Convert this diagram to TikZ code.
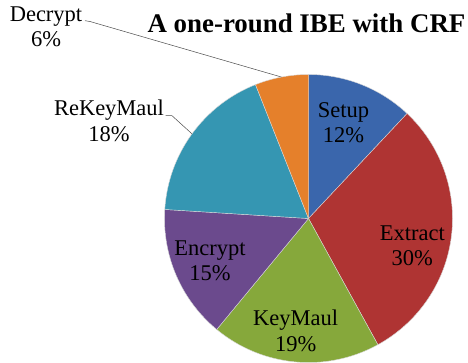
\documentclass[tikz,border=0pt]{standalone}
\usepackage{fontspec}
\setmainfont{Liberation Serif}
\usetikzlibrary{calc}
\begin{document}
\begin{tikzpicture}[x=1pt,y=1pt,
  lbl/.style={font=\fontsize{22.5}{25.4}\selectfont, align=center, inner sep=0pt, text=black, anchor=base},
  leader/.style={draw=black!70, line width=0.5pt},
  slice/.style={draw=white!85!black, line width=0.4pt}]
\useasboundingbox (0,0) rectangle (468,-362);
\fill[white] (0,0) rectangle (468,-362);

\definecolor{cSetup}{HTML}{3A66AC}
\definecolor{cExtract}{HTML}{AF3433}
\definecolor{cKeyMaul}{HTML}{86A83B}
\definecolor{cEncrypt}{HTML}{6B4A8D}
\definecolor{cReKey}{HTML}{3596B2}
\definecolor{cDecrypt}{HTML}{E5802B}

\coordinate (C) at (308.5,-218.5);
\def\R{144}

% slices, clockwise from 12 o'clock
\foreach \a/\b/\c in {90/46.8/cSetup, 46.8/-61.2/cExtract, -61.2/-129.6/cKeyMaul,
                      -129.6/-183.6/cEncrypt, -183.6/-248.4/cReKey, -248.4/-270/cDecrypt}{
  \filldraw[slice, fill=\c] (C) -- ++(\a:\R) arc[start angle=\a, end angle=\b, radius=\R] -- cycle;
}

% title
\node[font=\fontsize{26.9}{30}\selectfont\bfseries, anchor=base, inner sep=0pt] (title) at (306.5,-32.3) {A one-round IBE with CRF};

% slice labels (placed by the baseline of their last line)
\node[lbl] (setup) at (343.5,-142.7) {Setup\\12\%};
\node[lbl] (extract) at (412.3,-265.7) {Extract\\30\%};
\node[lbl] (keymaul) at (295.7,-351) {KeyMaul\\19\%};
\node[lbl] (encrypt) at (210,-280.7) {Encrypt\\15\%};
\node[lbl] (rekey) at (109,-141) {ReKeyMaul\\18\%};
\node[lbl] (decrypt) at (46,-46.7) {Decrypt\\6\%};

% leader lines from the outer labels to their slices
\coordinate (rekeyStart) at (165.5,-115.7);
\coordinate (rekeyBend) at (172,-115.7);
\coordinate (rekeyEnd) at ($(C)+(-216:\R)$);
\coordinate (decryptStart) at (85,-20.7);
\coordinate (decryptBend) at (90,-21.5);
\coordinate (decryptEnd) at ($(C)+(-259.2:\R)$);
\draw[leader] (rekeyStart) -- (rekeyBend) -- (rekeyEnd);
\draw[leader] (decryptStart) -- (decryptBend) -- (decryptEnd);
\end{tikzpicture}
\end{document}
